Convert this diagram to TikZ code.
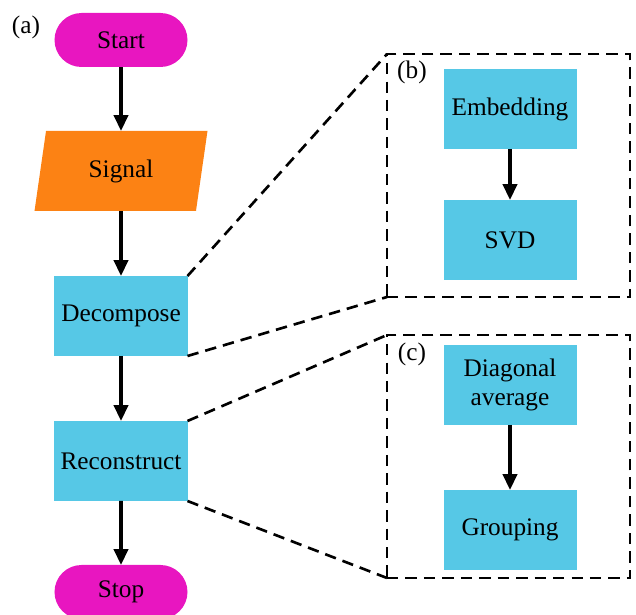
\documentclass[tikz,border=0pt]{standalone}
\usepackage{fontspec}
\setmainfont{Liberation Serif}
\usetikzlibrary{positioning,shapes.geometric,shapes.misc,arrows.meta}

\definecolor{termpink}{RGB}{232,22,192}
\definecolor{iorange}{RGB}{252,130,20}
\definecolor{procblue}{RGB}{86,200,230}

\tikzset{
  term/.style={rounded rectangle, fill=termpink, minimum width=2.66cm,
    minimum height=1.08cm, inner sep=0pt, outer sep=0pt},
  io/.style={trapezium, trapezium left angle=63.4, trapezium right angle=116.6,
    trapezium stretches body, fill=iorange, minimum width=3.46cm,
    minimum height=1.6cm, inner sep=0pt, outer sep=0pt},
  proc/.style={rectangle, fill=procblue, minimum width=2.66cm,
    minimum height=1.6cm, inner sep=0pt, outer sep=0pt, align=center},
  zoombox/.style={draw, line width=1.5pt, dash pattern=on 6.5pt off 4pt,
    minimum width=4.86cm, minimum height=4.86cm, inner sep=0pt, outer sep=0pt},
  zoomline/.style={line width=1.5pt, dash pattern=on 6.5pt off 4pt},
  flow/.style={-{Triangle[length=9pt,width=8pt]}, line width=2pt}
}

\begin{document}
\begin{tikzpicture}[font=\fontsize{14.4}{16.5}\selectfont]
  \useasboundingbox (0,0) rectangle (12.72,-12.30);

  % main flow
  \begin{scope}[on grid, node distance=2.9cm]

  \node (lab-a) at (0.52,-0.54) {(a)};
  \node[term] (a-1) at (2.42,-0.80) {Start};
  \node[io, below=2.62cm of a-1] (a-2) {Signal};
  \node[proc, below=of a-2] (a-3) {Decompose};
  \node[proc, below=of a-3] (a-4) {Reconstruct};
  \node[term, below=2.62cm of a-4] (a-5) {Stop};

  \path[flow]
  (a-1) edge (a-2)
  (a-2) edge (a-3)
  (a-3) edge (a-4)
  (a-4) edge (a-5);

  \end{scope}

  % zoomed steps
  \begin{scope}[on grid, node distance=2.62cm]

  \node[zoombox] (box-b) at (10.17,-3.51) {};
  \node[zoombox] (box-c) at (10.17,-9.13) {};
  \node (lab-b) at (8.24,-1.44) {(b)};
  \node (lab-c) at (8.24,-7.08) {(c)};

  \node[proc] (b-1) at (10.2,-2.18) {Embedding};
  \node[proc, below=of b-1] (b-2) {SVD};
  \node[proc] (c-1) at (10.2,-7.70) {Diagonal\\average};
  \node[proc, below=2.9cm of c-1] (c-2) {Grouping};

  \path[flow]
  (b-1) edge (b-2)
  (c-1) edge (c-2);

  \end{scope}

  \draw[zoomline] (a-3.north east) -- (box-b.north west);
  \draw[zoomline] (a-3.south east) -- (box-b.south west);
  \draw[zoomline] (a-4.north east) -- (box-c.north west);
  \draw[zoomline] (a-4.south east) -- (box-c.south west);
\end{tikzpicture}
\end{document}
